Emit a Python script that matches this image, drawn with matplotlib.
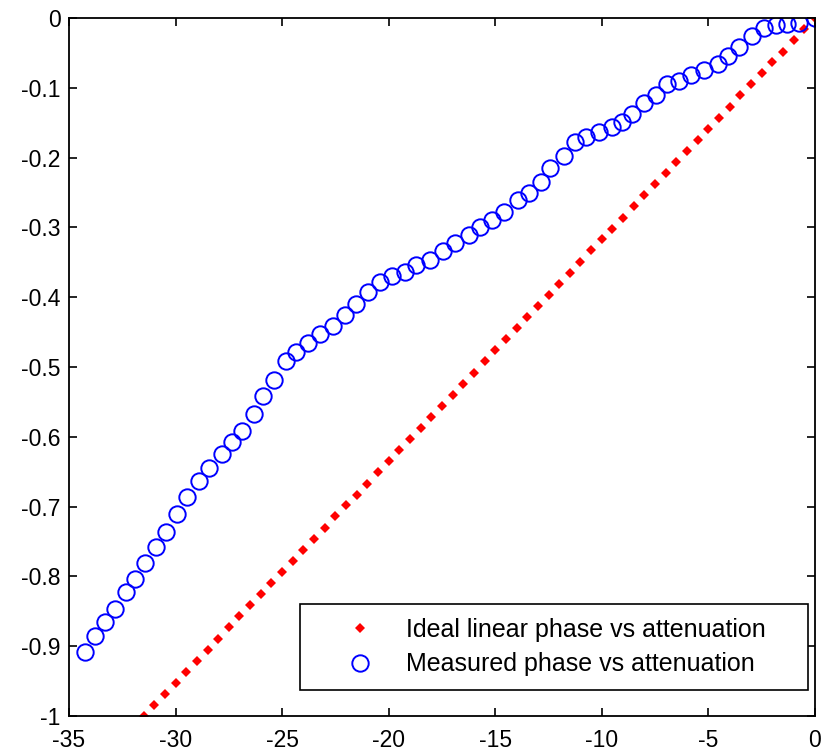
import matplotlib
matplotlib.use('Agg')
import matplotlib.pyplot as plt
from matplotlib.ticker import FormatStrFormatter

# ideal linear phase vs attenuation (0.5 dB steps)
ideal_att = [-31.5, -31.0, -30.5, -30.0, -29.5, -29.0, -28.5, -28.0,
             -27.5, -27.0, -26.5, -26.0, -25.5, -25.0, -24.5, -24.0,
             -23.5, -23.0, -22.5, -22.0, -21.5, -21.0, -20.5, -20.0,
             -19.5, -19.0, -18.5, -18.0, -17.5, -17.0, -16.5, -16.0,
             -15.5, -15.0, -14.5, -14.0, -13.5, -13.0, -12.5, -12.0,
             -11.5, -11.0, -10.5, -10.0, -9.5, -9.0, -8.5, -8.0,
             -7.5, -7.0, -6.5, -6.0, -5.5, -5.0, -4.5, -4.0,
             -3.5, -3.0, -2.5, -2.0, -1.5, -1.0, -0.5, 0.0]
ideal_phase = [-1.000, -0.984, -0.968, -0.952, -0.937, -0.921, -0.905, -0.889,
               -0.873, -0.857, -0.841, -0.825, -0.810, -0.794, -0.778, -0.762,
               -0.746, -0.730, -0.714, -0.698, -0.683, -0.667, -0.651, -0.635,
               -0.619, -0.603, -0.587, -0.571, -0.556, -0.540, -0.524, -0.508,
               -0.492, -0.476, -0.460, -0.444, -0.429, -0.413, -0.397, -0.381,
               -0.365, -0.349, -0.333, -0.317, -0.302, -0.286, -0.270, -0.254,
               -0.238, -0.222, -0.206, -0.190, -0.175, -0.159, -0.143, -0.127,
               -0.111, -0.095, -0.079, -0.063, -0.048, -0.032, -0.016, 0.000]

# measured points
meas_att = [-34.27, -33.80, -33.33, -32.86, -32.34, -31.88, -31.41, -30.91,
            -30.44, -29.94, -29.45, -28.88, -28.41, -27.83, -27.36, -26.89,
            -26.34, -25.88, -25.36, -24.84, -24.34, -23.80, -23.21, -22.62,
            -22.07, -21.53, -20.95, -20.39, -19.84, -19.23, -18.71, -18.06,
            -17.47, -16.87, -16.25, -15.70, -15.15, -14.57, -13.95, -13.40,
            -12.85, -12.42, -11.79, -11.25, -10.72, -10.12, -9.54, -9.03,
            -8.56, -8.01, -7.46, -6.92, -6.37, -5.82, -5.20, -4.57,
            -4.10, -3.56, -2.93, -2.38, -1.84, -1.29, -0.74, 0.0]
meas_phase = [-0.908, -0.886, -0.866, -0.846, -0.822, -0.803, -0.781, -0.758,
              -0.736, -0.710, -0.686, -0.663, -0.644, -0.624, -0.608, -0.591,
              -0.567, -0.541, -0.518, -0.492, -0.479, -0.465, -0.453, -0.441,
              -0.425, -0.410, -0.393, -0.378, -0.369, -0.364, -0.354, -0.347,
              -0.334, -0.323, -0.311, -0.300, -0.289, -0.278, -0.261, -0.251,
              -0.235, -0.215, -0.198, -0.177, -0.171, -0.163, -0.156, -0.149,
              -0.137, -0.122, -0.110, -0.095, -0.090, -0.081, -0.075, -0.066,
              -0.055, -0.041, -0.026, -0.015, -0.010, -0.009, -0.007, 0.0]

xticks = [-35, -30, -25, -20, -15, -10, -5, 0]
yticks = [-1, -0.9, -0.8, -0.7, -0.6, -0.5, -0.4, -0.3, -0.2, -0.1, 0]

plt.rcParams['font.family'] = ['Liberation Sans', 'DejaVu Sans']
plt.rcParams['axes.unicode_minus'] = False   # plain hyphen like the matlab plot

fig = plt.figure(figsize=(8.24, 7.51), dpi=100)
ax = fig.add_axes([0.0837, 0.0466, 0.9053, 0.9294])

ax.plot(ideal_att, ideal_phase, 'D', color=(1, 0, 0), markersize=5,
        markeredgewidth=0, label='Ideal linear phase vs attenuation')
ax.plot(meas_att, meas_phase, 'o', color=(0, 0, 1), markersize=11.8,
        markerfacecolor='none', markeredgewidth=1.4,
        label='Measured phase vs attenuation')

ax.set_xlim(-35, 0)
ax.set_ylim(-1, 0)
ax.set_xticks(xticks)
ax.set_yticks(yticks)
ax.yaxis.set_major_formatter(FormatStrFormatter('%g'))
ax.tick_params(direction='in', top=True, right=True, length=6, width=1.2,
               labelsize=16.5)
ax.tick_params(axis='x', pad=9)
ax.tick_params(axis='y', pad=6)
for s in ax.spines.values():
    s.set_linewidth(1.3)

# legend box stretched to the same width as the original
leg = ax.legend(loc='lower left', bbox_to_anchor=(0.3097, 0.0372, 0.681, 0.1),
                mode='expand', borderaxespad=0, fontsize=18, fancybox=False,
                edgecolor='black', framealpha=1, handlelength=3.7,
                handletextpad=0.0, borderpad=0.55, labelspacing=0.42)
leg.get_frame().set_linewidth(1.2)

plt.savefig('out.png', dpi=100)
